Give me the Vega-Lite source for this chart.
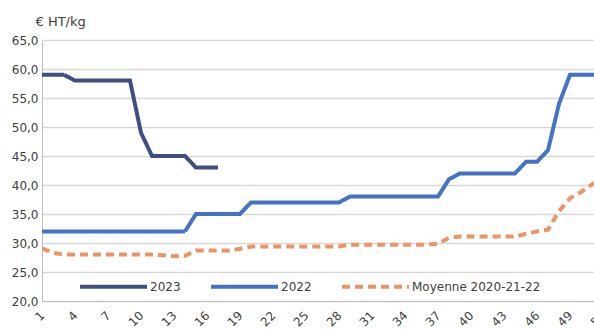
{
  "$schema": "https://vega.github.io/schema/vega-lite/v6.json",
  "width": 552,
  "height": 261,
  "autosize": {"type": "none"},
  "padding": {"left": 42, "top": 40, "right": 0, "bottom": 28},
  "background": "white",
  "config": {"view": {"stroke": null}, "font": "DejaVu Sans"},
  "data": {
    "values": [
      {"semaine": 1, "serie": "2023", "valeur": 59},
      {"semaine": 2, "serie": "2023", "valeur": 59},
      {"semaine": 3, "serie": "2023", "valeur": 59},
      {"semaine": 4, "serie": "2023", "valeur": 58},
      {"semaine": 5, "serie": "2023", "valeur": 58},
      {"semaine": 6, "serie": "2023", "valeur": 58},
      {"semaine": 7, "serie": "2023", "valeur": 58},
      {"semaine": 8, "serie": "2023", "valeur": 58},
      {"semaine": 9, "serie": "2023", "valeur": 58},
      {"semaine": 10, "serie": "2023", "valeur": 49},
      {"semaine": 11, "serie": "2023", "valeur": 45},
      {"semaine": 12, "serie": "2023", "valeur": 45},
      {"semaine": 13, "serie": "2023", "valeur": 45},
      {"semaine": 14, "serie": "2023", "valeur": 45},
      {"semaine": 15, "serie": "2023", "valeur": 43},
      {"semaine": 16, "serie": "2023", "valeur": 43},
      {"semaine": 17, "serie": "2023", "valeur": 43},

      {"semaine": 1, "serie": "2022", "valeur": 32},
      {"semaine": 2, "serie": "2022", "valeur": 32},
      {"semaine": 3, "serie": "2022", "valeur": 32},
      {"semaine": 4, "serie": "2022", "valeur": 32},
      {"semaine": 5, "serie": "2022", "valeur": 32},
      {"semaine": 6, "serie": "2022", "valeur": 32},
      {"semaine": 7, "serie": "2022", "valeur": 32},
      {"semaine": 8, "serie": "2022", "valeur": 32},
      {"semaine": 9, "serie": "2022", "valeur": 32},
      {"semaine": 10, "serie": "2022", "valeur": 32},
      {"semaine": 11, "serie": "2022", "valeur": 32},
      {"semaine": 12, "serie": "2022", "valeur": 32},
      {"semaine": 13, "serie": "2022", "valeur": 32},
      {"semaine": 14, "serie": "2022", "valeur": 32},
      {"semaine": 15, "serie": "2022", "valeur": 35},
      {"semaine": 16, "serie": "2022", "valeur": 35},
      {"semaine": 17, "serie": "2022", "valeur": 35},
      {"semaine": 18, "serie": "2022", "valeur": 35},
      {"semaine": 19, "serie": "2022", "valeur": 35},
      {"semaine": 20, "serie": "2022", "valeur": 37},
      {"semaine": 21, "serie": "2022", "valeur": 37},
      {"semaine": 22, "serie": "2022", "valeur": 37},
      {"semaine": 23, "serie": "2022", "valeur": 37},
      {"semaine": 24, "serie": "2022", "valeur": 37},
      {"semaine": 25, "serie": "2022", "valeur": 37},
      {"semaine": 26, "serie": "2022", "valeur": 37},
      {"semaine": 27, "serie": "2022", "valeur": 37},
      {"semaine": 28, "serie": "2022", "valeur": 37},
      {"semaine": 29, "serie": "2022", "valeur": 38},
      {"semaine": 30, "serie": "2022", "valeur": 38},
      {"semaine": 31, "serie": "2022", "valeur": 38},
      {"semaine": 32, "serie": "2022", "valeur": 38},
      {"semaine": 33, "serie": "2022", "valeur": 38},
      {"semaine": 34, "serie": "2022", "valeur": 38},
      {"semaine": 35, "serie": "2022", "valeur": 38},
      {"semaine": 36, "serie": "2022", "valeur": 38},
      {"semaine": 37, "serie": "2022", "valeur": 38},
      {"semaine": 38, "serie": "2022", "valeur": 41},
      {"semaine": 39, "serie": "2022", "valeur": 42},
      {"semaine": 40, "serie": "2022", "valeur": 42},
      {"semaine": 41, "serie": "2022", "valeur": 42},
      {"semaine": 42, "serie": "2022", "valeur": 42},
      {"semaine": 43, "serie": "2022", "valeur": 42},
      {"semaine": 44, "serie": "2022", "valeur": 42},
      {"semaine": 45, "serie": "2022", "valeur": 44},
      {"semaine": 46, "serie": "2022", "valeur": 44},
      {"semaine": 47, "serie": "2022", "valeur": 46},
      {"semaine": 48, "serie": "2022", "valeur": 54},
      {"semaine": 49, "serie": "2022", "valeur": 59},
      {"semaine": 50, "serie": "2022", "valeur": 59},
      {"semaine": 51, "serie": "2022", "valeur": 59},
      {"semaine": 52, "serie": "2022", "valeur": 59},

      {"semaine": 1, "serie": "Moyenne 2020-21-22", "valeur": 29.1},
      {"semaine": 2, "serie": "Moyenne 2020-21-22", "valeur": 28.3},
      {"semaine": 3, "serie": "Moyenne 2020-21-22", "valeur": 28.0},
      {"semaine": 4, "serie": "Moyenne 2020-21-22", "valeur": 28.0},
      {"semaine": 5, "serie": "Moyenne 2020-21-22", "valeur": 28.0},
      {"semaine": 6, "serie": "Moyenne 2020-21-22", "valeur": 28.0},
      {"semaine": 7, "serie": "Moyenne 2020-21-22", "valeur": 28.0},
      {"semaine": 8, "serie": "Moyenne 2020-21-22", "valeur": 28.0},
      {"semaine": 9, "serie": "Moyenne 2020-21-22", "valeur": 28.0},
      {"semaine": 10, "serie": "Moyenne 2020-21-22", "valeur": 28.0},
      {"semaine": 11, "serie": "Moyenne 2020-21-22", "valeur": 28.0},
      {"semaine": 12, "serie": "Moyenne 2020-21-22", "valeur": 27.9},
      {"semaine": 13, "serie": "Moyenne 2020-21-22", "valeur": 27.7},
      {"semaine": 14, "serie": "Moyenne 2020-21-22", "valeur": 27.8},
      {"semaine": 15, "serie": "Moyenne 2020-21-22", "valeur": 28.7},
      {"semaine": 16, "serie": "Moyenne 2020-21-22", "valeur": 28.7},
      {"semaine": 17, "serie": "Moyenne 2020-21-22", "valeur": 28.7},
      {"semaine": 18, "serie": "Moyenne 2020-21-22", "valeur": 28.7},
      {"semaine": 19, "serie": "Moyenne 2020-21-22", "valeur": 29.0},
      {"semaine": 20, "serie": "Moyenne 2020-21-22", "valeur": 29.4},
      {"semaine": 21, "serie": "Moyenne 2020-21-22", "valeur": 29.4},
      {"semaine": 22, "serie": "Moyenne 2020-21-22", "valeur": 29.4},
      {"semaine": 23, "serie": "Moyenne 2020-21-22", "valeur": 29.4},
      {"semaine": 24, "serie": "Moyenne 2020-21-22", "valeur": 29.4},
      {"semaine": 25, "serie": "Moyenne 2020-21-22", "valeur": 29.4},
      {"semaine": 26, "serie": "Moyenne 2020-21-22", "valeur": 29.4},
      {"semaine": 27, "serie": "Moyenne 2020-21-22", "valeur": 29.4},
      {"semaine": 28, "serie": "Moyenne 2020-21-22", "valeur": 29.4},
      {"semaine": 29, "serie": "Moyenne 2020-21-22", "valeur": 29.7},
      {"semaine": 30, "serie": "Moyenne 2020-21-22", "valeur": 29.7},
      {"semaine": 31, "serie": "Moyenne 2020-21-22", "valeur": 29.7},
      {"semaine": 32, "serie": "Moyenne 2020-21-22", "valeur": 29.7},
      {"semaine": 33, "serie": "Moyenne 2020-21-22", "valeur": 29.7},
      {"semaine": 34, "serie": "Moyenne 2020-21-22", "valeur": 29.7},
      {"semaine": 35, "serie": "Moyenne 2020-21-22", "valeur": 29.7},
      {"semaine": 36, "serie": "Moyenne 2020-21-22", "valeur": 29.7},
      {"semaine": 37, "serie": "Moyenne 2020-21-22", "valeur": 29.9},
      {"semaine": 38, "serie": "Moyenne 2020-21-22", "valeur": 30.9},
      {"semaine": 39, "serie": "Moyenne 2020-21-22", "valeur": 31.1},
      {"semaine": 40, "serie": "Moyenne 2020-21-22", "valeur": 31.1},
      {"semaine": 41, "serie": "Moyenne 2020-21-22", "valeur": 31.1},
      {"semaine": 42, "serie": "Moyenne 2020-21-22", "valeur": 31.1},
      {"semaine": 43, "serie": "Moyenne 2020-21-22", "valeur": 31.1},
      {"semaine": 44, "serie": "Moyenne 2020-21-22", "valeur": 31.1},
      {"semaine": 45, "serie": "Moyenne 2020-21-22", "valeur": 31.6},
      {"semaine": 46, "serie": "Moyenne 2020-21-22", "valeur": 32.0},
      {"semaine": 47, "serie": "Moyenne 2020-21-22", "valeur": 32.3},
      {"semaine": 48, "serie": "Moyenne 2020-21-22", "valeur": 35.5},
      {"semaine": 49, "serie": "Moyenne 2020-21-22", "valeur": 37.7},
      {"semaine": 50, "serie": "Moyenne 2020-21-22", "valeur": 38.8},
      {"semaine": 51, "serie": "Moyenne 2020-21-22", "valeur": 40.1},
      {"semaine": 52, "serie": "Moyenne 2020-21-22", "valeur": 41.2}
    ]
  },
  "mark": {"type": "line", "strokeWidth": 4, "clip": true},
  "encoding": {
    "x": {
      "field": "semaine",
      "type": "quantitative",
      "scale": {"domain": [1, 52], "range": [0, 561], "nice": false, "zero": false},
      "axis": {
        "values": [1, 4, 7, 10, 13, 16, 19, 22, 25, 28, 31, 34, 37, 40, 43, 46, 49, 52],
        "title": null,
        "grid": false,
        "ticks": false,
        "labelAngle": -45,
        "labelAlign": "right",
        "labelBaseline": "middle",
        "labelPadding": 12,
        "labelFontSize": 12,
        "labelColor": "#404040",
        "labelOverlap": false,
        "labelBound": false,
        "labelFlush": false,
        "domainColor": "#bfbfbf",
        "domainWidth": 1
      }
    },
    "y": {
      "field": "valeur",
      "type": "quantitative",
      "scale": {"domain": [20, 65], "nice": false, "zero": false},
      "axis": {
        "values": [20, 25, 30, 35, 40, 45, 50, 55, 60, 65],
        "labelExpr": "replace(format(datum.value, '.1f'), '.', ',')",
        "title": "€ HT/kg",
        "titleAngle": 0,
        "titleAlign": "left",
        "titleBaseline": "alphabetic",
        "titleX": -7,
        "titleY": -15,
        "titleFontWeight": "normal",
        "titleFontSize": 13,
        "titleColor": "#404040",
        "labelFontSize": 12,
        "labelColor": "#404040",
        "labelPadding": 4,
        "ticks": false,
        "domainColor": "#bfbfbf",
        "domainWidth": 1,
        "gridColor": "#d9d9d9",
        "gridWidth": 1.5,
        "labelFlush": false
      }
    },
    "color": {
      "field": "serie",
      "type": "nominal",
      "scale": {"domain": ["2023", "2022", "Moyenne 2020-21-22"], "range": ["#404F80", "#4472C4", "#EA9468"]},
      "legend": {
        "title": null,
        "orient": "none",
        "legendX": 36,
        "legendY": 211,
        "direction": "horizontal",
        "symbolType": "stroke",
        "symbolSize": 4489,
        "symbolStrokeWidth": 4,
        "labelFontSize": 12,
        "labelColor": "#404040",
        "labelOffset": 1,
        "columnPadding": 22,
        "padding": 0
      }
    },
    "strokeDash": {
      "field": "serie",
      "type": "nominal",
      "scale": {"domain": ["2023", "2022", "Moyenne 2020-21-22"], "range": [[1, 0], [1, 0], [8, 5]]},
      "legend": {
        "title": null,
        "orient": "none",
        "legendX": 36,
        "legendY": 211,
        "direction": "horizontal",
        "symbolType": "stroke",
        "symbolSize": 4489,
        "symbolStrokeWidth": 4,
        "labelFontSize": 12,
        "labelColor": "#404040",
        "labelOffset": 1,
        "columnPadding": 22,
        "padding": 0
      }
    }
  }
}
